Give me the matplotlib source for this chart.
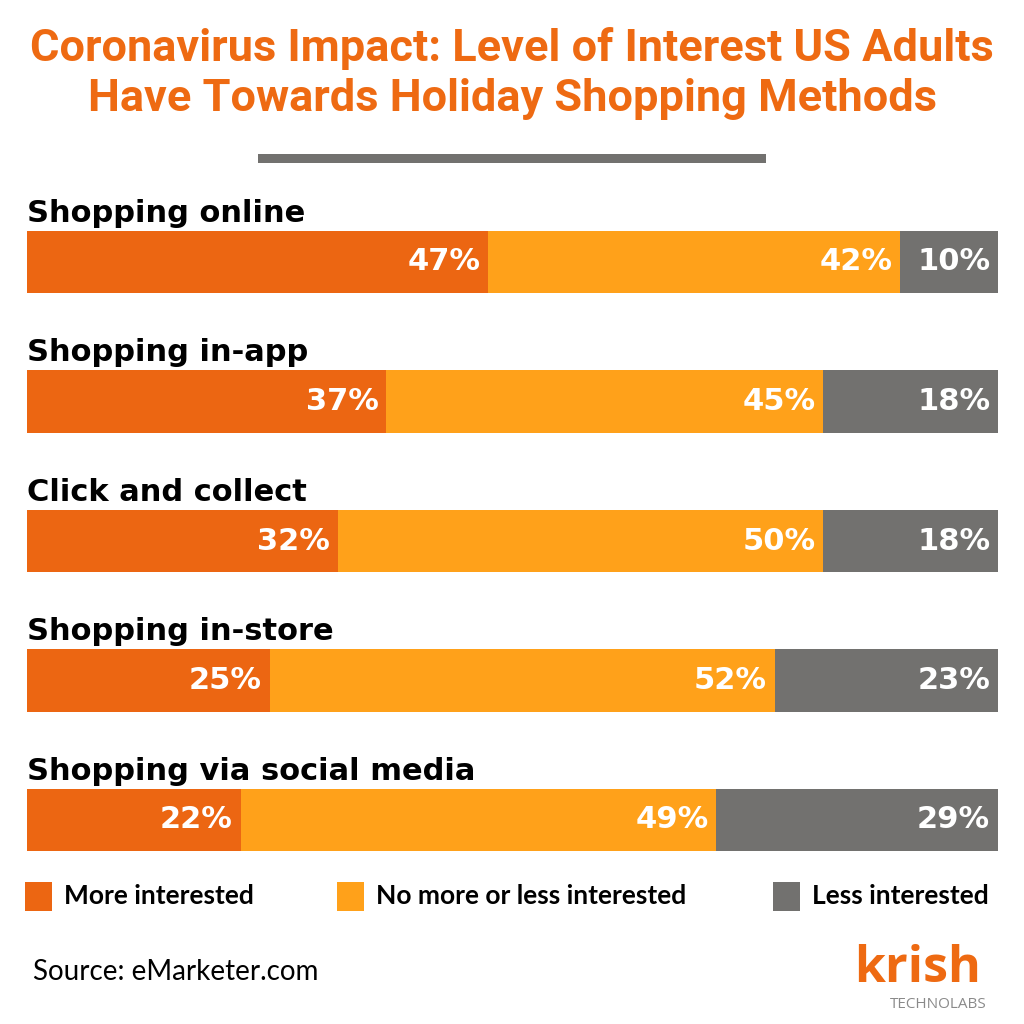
import numpy as np
import matplotlib.pyplot as plt
from matplotlib.patches import Rectangle

# data
categories = ['Shopping online', 'Shopping in-app', 'Click and collect',
              'Shopping in-store', 'Shopping via social media']
more_interested = [47, 37, 32, 25, 22]
no_change = [42, 45, 50, 52, 49]
less_interested = [10, 18, 18, 23, 29]
series_names = ['More interested', 'No more or less interested', 'Less interested']

colors = ['#EC6612', '#FFA11A', '#72716F']
W = 1024.0

fig = plt.figure(figsize=(10.24, 10.24), dpi=100)
fig.patch.set_facecolor('white')

# title
fig.text(0.5, 1 - 49 / W, 'Coronavirus Impact: Level of Interest US Adults',
         ha='center', va='center', color='#EE6A12', fontsize=32.5,
         fontweight='bold', family='Roboto')
fig.text(0.5, 1 - 99 / W, 'Have Towards Holiday Shopping Methods',
         ha='center', va='center', color='#EE6A12', fontsize=32.5,
         fontweight='bold', family='Roboto')
fig.add_artist(Rectangle((258 / W, 1 - 163 / W), 508 / W, 9 / W,
                         transform=fig.transFigure, color='#72716F', lw=0))

# bars
step = 139.5
ax = fig.add_axes([27 / W, 1 - (820 + 0.5 * step) / W, 971 / W, 5.1 * step / W])
ax.set_xlim(0, 100)
ax.set_ylim(4.5, -0.6)
ax.axis('off')

data = np.array([more_interested, no_change, less_interested], dtype=float)
shares = data / data.sum(axis=0) * 100
y = np.arange(len(categories))
left = np.zeros(len(categories))
for k in range(3):
    ax.barh(y, shares[k], left=left, height=0.445, color=colors[k], lw=0)
    for i in range(len(categories)):
        ax.text(left[i] + shares[k][i] - 0.8, y[i], f'{int(data[k][i])}%',
                ha='right', va='center', color='white', fontsize=22,
                fontweight='bold', family='DejaVu Sans')
    left += shares[k]

for i, name in enumerate(categories):
    ax.text(0, y[i] - 0.29, name, ha='left', va='baseline', color='black',
            fontsize=22, fontweight='bold', family='DejaVu Sans')

# legend
legend_x = [25, 337, 773]
for k, name in enumerate(series_names):
    fig.add_artist(Rectangle((legend_x[k] / W, 1 - 911 / W), 27 / W, 29 / W,
                             transform=fig.transFigure, color=colors[k], lw=0))
    fig.text((legend_x[k] + 39) / W, 1 - 896 / W, name, ha='left', va='center',
             fontsize=19, fontweight='bold', family='Lato', color='black')

# source and logo
fig.text(33 / W, 1 - 972 / W, 'Source: eMarketer.com', ha='left', va='center',
         fontsize=20, family='Lato', color='black')
fig.text(918 / W, 1 - 982 / W, 'krish', ha='center', va='baseline',
         fontsize=36, fontweight='bold', family='Open Sans', color='#EE6A12')
fig.text(938 / W, 1 - 1004 / W, 'TECHNOLABS', ha='center', va='center',
         fontsize=11, family='Open Sans', color='#8A8A8A')

fig.savefig('out.png', dpi=100)
